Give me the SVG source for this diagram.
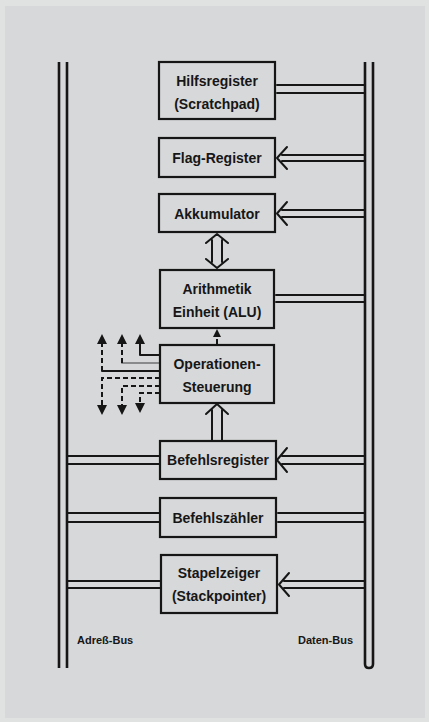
<svg xmlns="http://www.w3.org/2000/svg" width="429" height="722" viewBox="0 0 429 722">
<style>
.bg{fill:#d6d8d9}
.box{fill:none;stroke:#161616;stroke-width:2.2}
.ln{fill:none;stroke:#161616;stroke-width:2;stroke-linecap:round;stroke-linejoin:round}
.bus{fill:none;stroke:#161616;stroke-width:2.6}
.dash{fill:none;stroke:#161616;stroke-width:2;stroke-dasharray:5 3}
.t{font-family:"Liberation Sans",Arial,sans-serif;font-weight:bold;font-size:14px;fill:#161616;text-anchor:middle}
.lbl{font-family:"Liberation Sans",Arial,sans-serif;font-weight:bold;font-size:11px;fill:#161616}
.hd{fill:#161616}
</style>
<rect x="0" y="0" width="429" height="722" fill="#e0e1e1"/>
<rect x="5" y="6" width="420" height="712" class="bg"/>

<g id="address-bus">
<line x1="59" y1="62" x2="59" y2="668" class="bus"/>
<line x1="67" y1="62" x2="67" y2="668" class="bus"/>
<text x="77" y="644" class="lbl">Adreß-Bus</text>
</g>
<g id="data-bus">
<path d="M365 62 V664 Q365 668 369 668 Q373 668 373 664 V62" class="bus"/>
<text x="298" y="644" class="lbl">Daten-Bus</text>
</g>

<g id="hilfsregister">
<rect x="159" y="62" width="116" height="57" class="box"/>
<text x="217" y="86" class="t">Hilfsregister</text>
<text x="217" y="109" class="t">(Scratchpad)</text>
</g>
<g id="flag-register">
<rect x="159" y="138" width="116" height="39" class="box"/>
<text x="217" y="163" class="t">Flag-Register</text>
</g>
<g id="akkumulator">
<rect x="159" y="194" width="116" height="38" class="box"/>
<text x="217" y="219" class="t">Akkumulator</text>
</g>
<g id="alu">
<rect x="160" y="270" width="114" height="58" class="box"/>
<text x="217" y="294" class="t">Arithmetik</text>
<text x="217" y="317" class="t">Einheit (ALU)</text>
</g>
<g id="operationen-steuerung">
<rect x="160" y="345" width="114" height="58" class="box"/>
<text x="217" y="369" class="t">Operationen-</text>
<text x="217" y="392" class="t">Steuerung</text>
</g>
<g id="befehlsregister">
<rect x="160" y="441" width="116" height="38" class="box"/>
<text x="218" y="465" class="t">Befehlsregister</text>
</g>
<g id="befehlszaehler">
<rect x="160" y="498" width="116" height="39" class="box"/>
<text x="218" y="523" class="t">Befehlszähler</text>
</g>
<g id="stapelzeiger">
<rect x="161" y="555" width="116" height="58" class="box"/>
<text x="219" y="578" class="t">Stapelzeiger</text>
<text x="219" y="601" class="t">(Stackpointer)</text>
</g>

<g id="connectors">
<path d="M277 85 H365 M277 93 H365" class="ln"/>
<path d="M282 155 H365 M282 161 H365 M287 147 L277 158 L287 169" class="ln"/>
<path d="M282 210 H365 M282 217 H365 M287 202 L277 213.5 L287 225" class="ln"/>
<path d="M212 240 V262 M222 240 V262 M206 243 L217 234 L228 243 M206 259 L217 268 L228 259" class="ln"/>
<path d="M276 295 H365 M276 302 H365" class="ln"/>
<path d="M217 344 V336" class="dash"/>
<path d="M213 337 L217 329 L221 337 Z" class="hd"/>
<path d="M212 441 V410 M222 441 V410 M206 414 L217 404 L228 414" class="ln"/>
<path d="M282 456 H365 M282 464 H365 M287 448 L277 460 L287 472" class="ln"/>
<path d="M67 456 H160 M67 464 H160" class="ln"/>
<path d="M67 513 H160 M67 522 H160" class="ln"/>
<path d="M278 513 H365 M278 522 H365" class="ln"/>
<path d="M67 581 H161 M67 588 H161" class="ln"/>
<path d="M284 581 H365 M284 588 H365 M289 573 L279 584.5 L289 596" class="ln"/>
<path d="M160 355 H140 V343" class="ln"/>
<path d="M160 363 H122" class="ln" stroke-opacity="0.4"/>
<path d="M122 363 V343" class="dash"/>
<path d="M160 371 H102" class="ln"/>
<path d="M102 371 V343" class="dash"/>
<path d="M160 378 H102 V406" class="dash"/>
<path d="M160 386 H122 V406" class="dash"/>
<path d="M160 393 H140 V404" class="dash"/>
<path d="M97 344 L102 334 L107 344 Z M117 344 L122 334 L127 344 Z M135 344 L140 334 L145 344 Z" class="hd"/>
<path d="M97 405 L102 415 L107 405 Z M117 405 L122 415 L127 405 Z M135 403 L140 413 L145 403 Z" class="hd"/>
</g>
</svg>
